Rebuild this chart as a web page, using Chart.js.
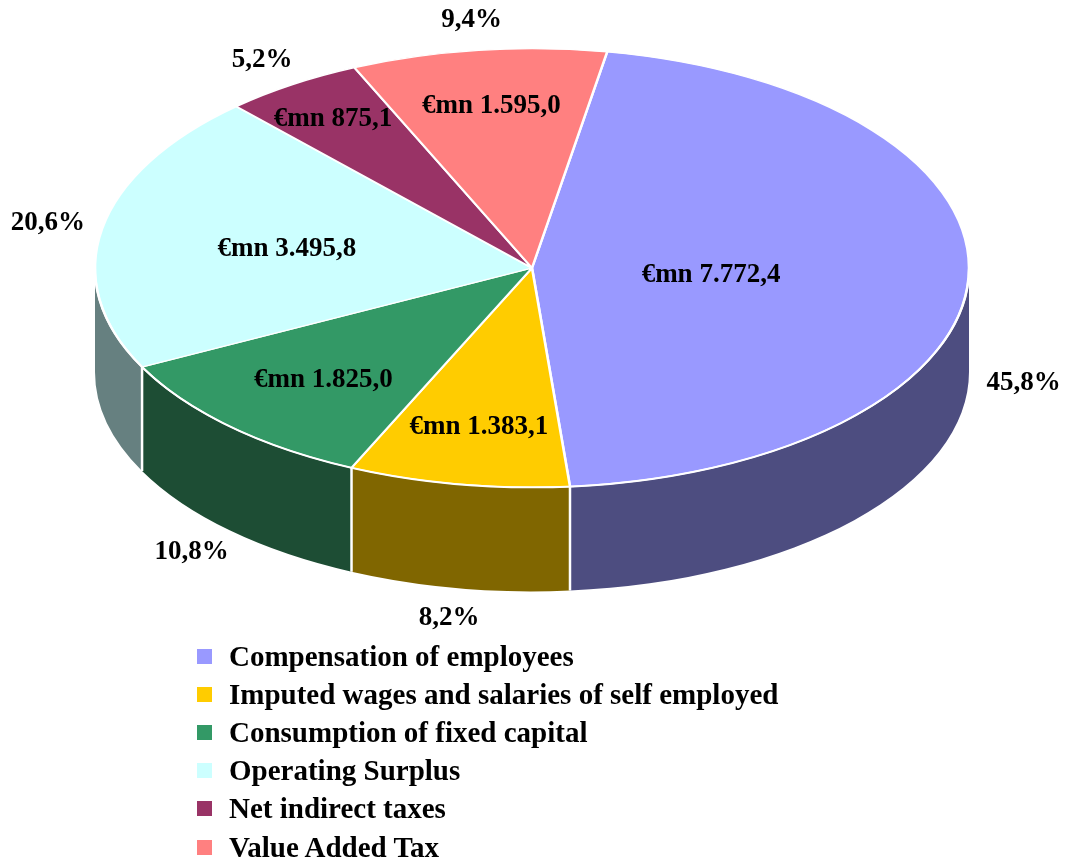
<!DOCTYPE html>
<html>
<head>
<meta charset="utf-8">
<script src="https://cdn.jsdelivr.net/npm/chart.js@4/dist/chart.umd.min.js"></script>
<style>
  html, body { margin: 0; padding: 0; background: #ffffff; }
  #wrap { position: relative; width: 1066px; height: 861px; }
  #legend { position: absolute; left: 197px; top: 637px; font-family: "Liberation Serif", "Times New Roman", serif; font-weight: bold; font-size: 29px; color: #000; }
  #legend .row { height: 38.2px; display: flex; align-items: center; white-space: nowrap; }
  #legend .box { width: 15px; height: 15px; margin-right: 17px; flex: none; }
</style>
</head>
<body>
<div id="wrap">
  <canvas id="pieChart" width="1066" height="861"></canvas>
  <div id="legend"></div>
</div>
<script>
// Chart data
const categories = [
  "Compensation of employees",
  "Imputed wages and salaries of self employed",
  "Consumption of fixed capital",
  "Operating Surplus",
  "Net indirect taxes",
  "Value Added Tax",
];
const values = [7772.4, 1383.1, 1825.0, 3495.8, 875.1, 1595.0];
const percentLabels = ["45,8%", "8,2%", "10,8%", "20,6%", "5,2%", "9,4%"];

// Styling
const topColors = ["#9999FF", "#FFCC00", "#339966", "#CCFFFF", "#993366", "#FF8080"];
const sideColors = ["#4D4D80", "#806600", "#1D4D34", "#668080", "#4D1A33", "#804040"];
const labelRadius = [0.41, 0.72, 0.69, 0.57, 0.83, 0.76];
const DEPTH = 104;
const FONT = 'bold 27px "Liberation Serif", "Times New Roman", serif';

function formatValue(v) {
  const parts = v.toFixed(1).split(".");
  const intPart = parts[0].replace(/\B(?=(\d{3})+(?!\d))/g, ".");
  return "€mn " + intPart + "," + parts[1];
}

// Squash the pie into an ellipse and add the 3D side wall
const pie3d = {
  id: "pie3d",
  geometry(chart) {
    const arcs = chart.getDatasetMeta(0).data;
    const cx = arcs[0].x, cy = arcs[0].y, r = arcs[0].outerRadius;
    return { arcs, cx, cy, r, rx: chart.chartArea.width / 2, ry: r };
  },
  beforeDatasetsDraw(chart) {
    const ctx = chart.ctx;
    const g = this.geometry(chart);

    // side walls (only the front half is visible)
    g.arcs.forEach((arc, i) => {
      const a = Math.max(arc.startAngle, 0);
      const b = Math.min(arc.endAngle, Math.PI);
      if (a >= b) return;
      ctx.beginPath();
      ctx.ellipse(g.cx, g.cy, g.rx, g.ry, 0, a, b);
      ctx.ellipse(g.cx, g.cy + DEPTH, g.rx, g.ry, 0, b, a, true);
      ctx.closePath();
      ctx.fillStyle = sideColors[i];
      ctx.fill();
    });

    // white separators between side segments
    ctx.strokeStyle = "#ffffff";
    ctx.lineWidth = 2.5;
    g.arcs.forEach((arc) => {
      const t = arc.startAngle;
      if (t > 0.01 && t < Math.PI - 0.01) {
        const x = g.cx + g.rx * Math.cos(t);
        const y = g.cy + g.ry * Math.sin(t);
        ctx.beginPath();
        ctx.moveTo(x, y);
        ctx.lineTo(x, y + DEPTH);
        ctx.stroke();
      }
    });

    ctx.save();
    ctx.translate(g.cx, g.cy);
    ctx.scale(g.rx / g.r, 1);
    ctx.translate(-g.cx, -g.cy);
  },
  afterDatasetsDraw(chart) {
    const ctx = chart.ctx;
    ctx.restore();
    const g = this.geometry(chart);

    // rim line between top face and side wall
    ctx.beginPath();
    ctx.ellipse(g.cx, g.cy, g.rx, g.ry, 0, 0, Math.PI);
    ctx.strokeStyle = "#ffffff";
    ctx.lineWidth = 2;
    ctx.stroke();

    ctx.font = FONT;
    ctx.fillStyle = "#000000";
    ctx.textAlign = "center";
    ctx.textBaseline = "middle";
    g.arcs.forEach((arc, i) => {
      const t = (arc.startAngle + arc.endAngle) / 2;
      const c = Math.cos(t), s = Math.sin(t);
      // value label on the slice
      const f = labelRadius[i];
      ctx.fillText(formatValue(values[i]), g.cx + f * g.rx * c, g.cy + f * g.ry * s + 3);
      // percentage label outside
      const px = g.cx + (g.rx + 55) * c;
      const py = g.cy + (g.ry + 30) * s + (s > 0 ? DEPTH : 0);
      ctx.fillText(percentLabels[i], px, py);
    });
  },
};

new Chart(document.getElementById("pieChart"), {
  type: "pie",
  data: {
    labels: categories,
    datasets: [
      {
        data: values,
        backgroundColor: topColors,
        borderColor: "#ffffff",
        borderWidth: 1.3,
        clip: false,
      },
    ],
  },
  options: {
    responsive: false,
    animation: false,
    events: [],
    rotation: 9.9,
    layout: {
      padding: { left: 95, right: 97, top: 48, bottom: 373 },
    },
    plugins: {
      legend: { display: false },
      tooltip: { enabled: false },
    },
  },
  plugins: [pie3d],
});

// Legend
const legendEl = document.getElementById("legend");
categories.forEach((name, i) => {
  const row = document.createElement("div");
  row.className = "row";
  const box = document.createElement("span");
  box.className = "box";
  box.style.background = topColors[i];
  const label = document.createElement("span");
  label.textContent = name;
  row.appendChild(box);
  row.appendChild(label);
  legendEl.appendChild(row);
});
</script>
</body>
</html>
